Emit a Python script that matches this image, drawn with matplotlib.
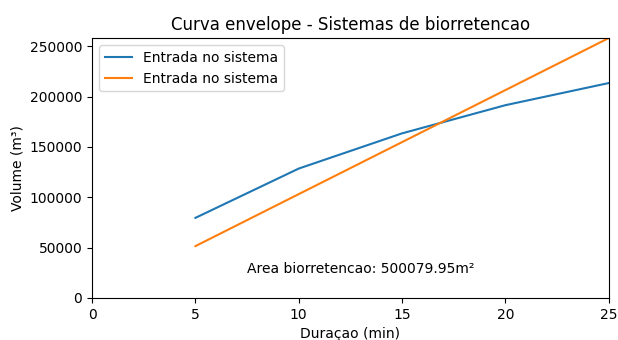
import numpy as np
import matplotlib.pyplot as plt

duracao = [5, 10, 15, 20, 25]
vol_entrada = [79500, 128500, 163500, 191500, 213500]
vol_saida = [51400, 103100, 154800, 206500, 258200]
area_bio = 500079.95

fig, ax = plt.subplots(figsize=(6.18, 3.4), dpi=100)
fig.subplots_adjust(left=0.149, right=0.985, top=0.888, bottom=0.124)

ax.plot(duracao, vol_entrada, label='Entrada no sistema')
ax.plot(duracao, vol_saida, label='Entrada no sistema')
ax.set_xlim(0, 25)
ax.set_ylim(0, max(vol_saida))
ax.set_title('Curva envelope - Sistemas de biorretencao')
ax.set_xlabel('Duraçao (min)')
ax.set_ylabel('Volume (m³)')
ax.text(7.5, 25000, 'Area biorretencao: ' + str(area_bio) + 'm²')
ax.legend(loc='upper left')

fig.savefig('out.png')
